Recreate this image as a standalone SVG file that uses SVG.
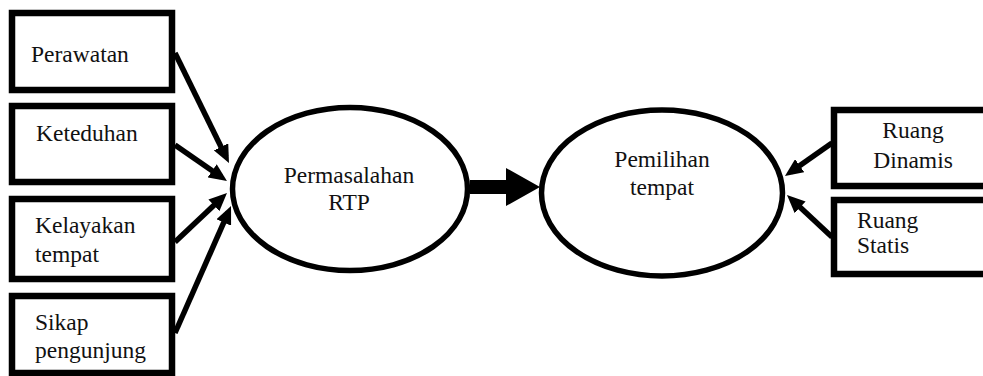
<svg xmlns="http://www.w3.org/2000/svg" width="983" height="376" viewBox="0 0 983 376">
<style>
.box{fill:#fff;stroke:#000;stroke-width:6.5}
.ell{fill:#fff;stroke:#000;stroke-width:5.5}
.lbl{font-family:"Liberation Serif","Times New Roman",serif;font-size:23.5px;fill:#111}
.mid{text-anchor:middle}
.con{stroke:#000;stroke-width:5.5;fill:none}
</style>
<defs>
<marker id="ah" viewBox="0 0 18 16" markerWidth="18" markerHeight="16" refX="11" refY="8" orient="auto" markerUnits="userSpaceOnUse">
<path d="M0,0 L18,8 L0,16 z" fill="#000"/>
</marker>
</defs>
<rect width="983" height="376" fill="#fff"/>
<g id="connectors">
<line class="con" x1="175" y1="53" x2="225.9" y2="156.7" marker-end="url(#ah)"/>
<line class="con" x1="175" y1="145" x2="221.2" y2="177" marker-end="url(#ah)"/>
<line class="con" x1="175" y1="242" x2="221.9" y2="197.8" marker-end="url(#ah)"/>
<line class="con" x1="175" y1="333" x2="228.2" y2="212.4" marker-end="url(#ah)"/>
<line class="con" x1="832" y1="143" x2="790.7" y2="172" marker-end="url(#ah)"/>
<line class="con" x1="832" y1="237" x2="792.1" y2="199.8" marker-end="url(#ah)"/>
<polygon points="470,180 506,180 506,168 540,187 506,206 506,194 470,194" fill="#000"/>
</g>
<g id="perawatan">
<rect class="box" x="12" y="13" width="160" height="77"/>
<text class="lbl" x="31" y="62">Perawatan</text>
</g>
<g id="keteduhan">
<rect class="box" x="12" y="106" width="160" height="76"/>
<text class="lbl" x="36" y="141">Keteduhan</text>
</g>
<g id="kelayakan">
<rect class="box" x="12" y="199" width="160" height="80"/>
<text class="lbl" x="35" y="233">Kelayakan</text>
<text class="lbl" x="35" y="262">tempat</text>
</g>
<g id="sikap">
<rect class="box" x="12" y="296" width="160" height="77"/>
<text class="lbl" x="35" y="330">Sikap</text>
<text class="lbl" x="35" y="358">pengunjung</text>
</g>
<g id="permasalahan">
<ellipse class="ell" cx="350" cy="189" rx="117.5" ry="81.5"/>
<text class="lbl mid" x="349" y="183">Permasalahan</text>
<text class="lbl mid" x="349" y="210">RTP</text>
</g>
<g id="pemilihan">
<ellipse class="ell" cx="662" cy="193" rx="120.5" ry="83"/>
<text class="lbl mid" x="662" y="167">Pemilihan</text>
<text class="lbl mid" x="662" y="195">tempat</text>
</g>
<g id="dinamis">
<rect class="box" x="834" y="110" width="200" height="76"/>
<text class="lbl mid" x="913" y="138">Ruang</text>
<text class="lbl mid" x="913" y="168">Dinamis</text>
</g>
<g id="statis">
<rect class="box" x="834" y="200" width="200" height="74"/>
<text class="lbl" x="857" y="228">Ruang</text>
<text class="lbl" x="857" y="253">Statis</text>
</g>
</svg>
